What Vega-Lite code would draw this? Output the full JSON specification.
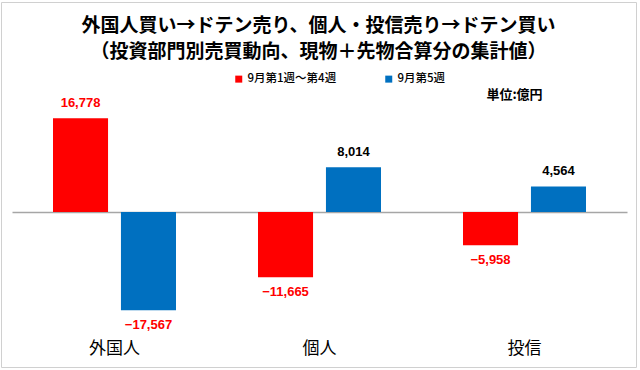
{
  "$schema": "https://vega.github.io/schema/vega-lite/v6.json",
  "width": 635,
  "height": 365,
  "autosize": {"type": "none"},
  "padding": {"left": 1, "top": 2, "right": 4, "bottom": 3},
  "background": "white",
  "config": {
    "view": {"stroke": "#d0d0d0", "strokeWidth": 1},
    "font": "Noto Sans CJK JP"
  },
  "title": {
    "text": ["外国人買い→ドテン売り、個人・投信売り→ドテン買い", "（投資部門別売買動向、現物＋先物合算分の集計値）"],
    "fontSize": 19,
    "fontWeight": "bold",
    "font": "Noto Sans CJK JP",
    "lineHeight": 26,
    "anchor": "middle",
    "frame": "group",
    "offset": -60,
    "color": "#000000"
  },
  "data": {
    "values": [
      {"investor": "外国人", "series": "9月第1週～第4週", "value": 16778},
      {"investor": "外国人", "series": "9月第5週", "value": -17567},
      {"investor": "個人", "series": "9月第1週～第4週", "value": -11665},
      {"investor": "個人", "series": "9月第5週", "value": 8014},
      {"investor": "投信", "series": "9月第1週～第4週", "value": -5958},
      {"investor": "投信", "series": "9月第5週", "value": 4564}
    ]
  },
  "layer": [
    {
      "mark": {"type": "bar"},
      "encoding": {
        "x": {
          "field": "investor", "type": "nominal", "sort": ["外国人", "個人", "投信"],
          "scale": {"range": [11, 626], "paddingInner": 0.4, "paddingOuter": 0.2},
          "axis": {
            "orient": "bottom", "offset": -155, "title": null, "ticks": false,
            "labelPadding": 128, "labelFontSize": 17, "labelColor": "#000000",
            "labelFont": "Noto Sans CJK JP", "domainColor": "#a6a6a6", "domainWidth": 1.5,
            "labelAngle": 0, "grid": false
          }
        },
        "xOffset": {"field": "series", "type": "nominal", "sort": ["9月第1週～第4週", "9月第5週"], "scale": {"paddingInner": 0.19, "paddingOuter": 0}},
        "y": {"field": "value", "type": "quantitative", "scale": {"domain": [-27728, 37567], "nice": false, "zero": false}, "axis": null},
        "color": {
          "field": "series", "type": "nominal",
          "scale": {"domain": ["9月第1週～第4週", "9月第5週"], "range": ["#FF0000", "#0070C0"]},
          "legend": {
            "orient": "none", "legendX": 232, "legendY": 71, "direction": "horizontal",
            "title": null, "symbolType": "square", "symbolSize": 49, "symbolStrokeWidth": 0,
            "labelFontSize": 11.5, "labelFont": "Noto Sans CJK JP", "labelFontWeight": 500, "labelColor": "#000000",
            "columnPadding": 46, "labelOffset": 3
          }
        }
      }
    },
    {
      "transform": [{"filter": "datum.value >= 0"}],
      "mark": {"type": "text", "dy": -15, "baseline": "middle", "align": "center", "fontSize": 13, "fontWeight": "bold", "font": "Liberation Sans"},
      "encoding": {
        "x": {"field": "investor", "type": "nominal", "sort": ["外国人", "個人", "投信"]},
        "xOffset": {"field": "series", "type": "nominal", "sort": ["9月第1週～第4週", "9月第5週"]},
        "y": {"field": "value", "type": "quantitative"},
        "text": {"field": "value", "type": "quantitative", "format": ",.0f"},
        "color": {"condition": {"test": "datum.series === '9月第1週～第4週' || datum.value < 0", "value": "#FF0000"}, "value": "#000000"}
      }
    },
    {
      "transform": [{"filter": "datum.value < 0"}],
      "mark": {"type": "text", "dy": 15, "baseline": "middle", "align": "center", "fontSize": 13, "fontWeight": "bold", "font": "Liberation Sans"},
      "encoding": {
        "x": {"field": "investor", "type": "nominal", "sort": ["外国人", "個人", "投信"]},
        "xOffset": {"field": "series", "type": "nominal", "sort": ["9月第1週～第4週", "9月第5週"]},
        "y": {"field": "value", "type": "quantitative"},
        "text": {"field": "value", "type": "quantitative", "format": ",.0f"},
        "color": {"condition": {"test": "datum.series === '9月第1週～第4週' || datum.value < 0", "value": "#FF0000"}, "value": "#000000"}
      }
    },
    {
      "data": {"values": [{"investor": "投信", "note": "単位:億円"}]},
      "mark": {"type": "text", "dx": -10, "baseline": "middle", "align": "center", "fontSize": 13, "fontWeight": "bold", "font": "Noto Sans CJK JP", "color": "#000000"},
      "encoding": {
        "x": {"field": "investor", "type": "nominal", "sort": ["外国人", "個人", "投信"]},
        "y": {"datum": 20930},
        "text": {"field": "note"}
      }
    }
  ]
}
